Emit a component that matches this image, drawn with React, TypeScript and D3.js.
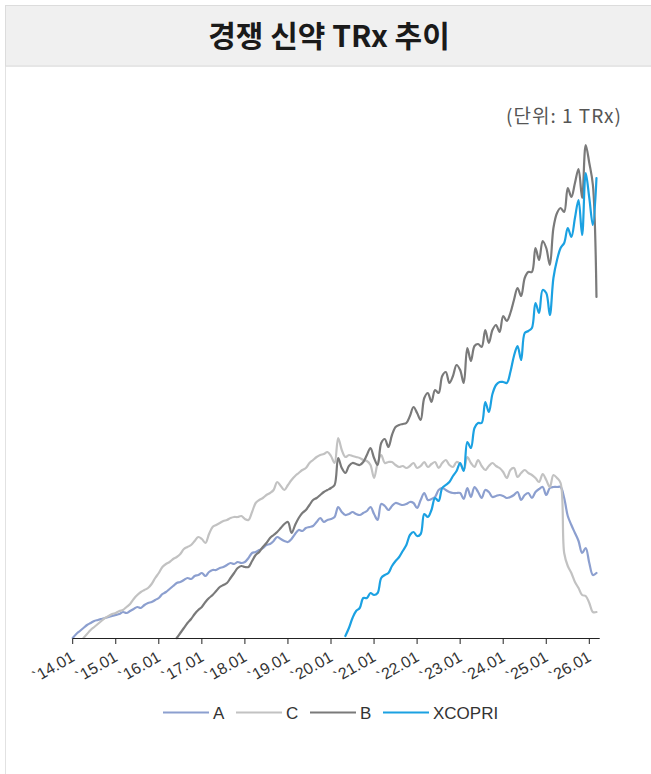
import React from 'react';
import * as d3 from 'd3';

// ---------- data (monthly, starting `14.01 = month 0) ----------
const tickLabels = ["`14.01", "`15.01", "`16.01", "`17.01", "`18.01", "`19.01", "`20.01", "`21.01", "`22.01", "`23.01", "`24.01", "`25.01", "`26.01"];
const seriesNames = ["A", "C", "B", "XCOPRI"];
const seriesColors = ["#8c9fcf", "#c2c2c2", "#7a7a7a", "#1ba1e2"];

const startA = 0;
const valuesA = [
  0, 4, 7, 10, 13, 15, 17, 18, 19, 20, 21, 22,
  23, 24, 26, 25, 27, 29, 31, 30, 33, 35, 36, 38,
  40, 44, 46, 49, 52, 55, 56, 58, 60, 59, 62, 63,
  65, 62, 66, 68, 68, 70, 71, 73, 75, 74, 76, 75,
  76, 80, 85, 86, 88, 90, 93, 94, 97, 101, 99, 97,
  96, 99, 104, 108, 107, 110, 111, 112, 116, 120, 116, 118,
  119, 121, 131, 126, 123, 124, 126, 124, 123, 125, 127, 131,
  124, 118, 134, 132, 128, 132, 135, 134, 133, 134, 136, 135,
  130, 138, 145, 138, 139, 141, 148, 150, 148, 146, 145, 145,
  145, 139, 150, 141, 151, 146, 140, 148, 146, 141, 142, 143,
  142, 140, 141, 143, 146, 138, 143, 145, 140, 146, 149, 151,
  143, 150, 151, 151, 151, 140, 122, 113, 105, 97, 85, 90,
  75, 63, 65,
];

const startC = 3;
const valuesC = [
  0, 4, 8, 11, 14, 17, 20, 22, 24,
  25, 27, 28, 31, 34, 39, 43, 46, 48, 50, 54, 60,
  65, 71, 74, 76, 79, 81, 84, 89, 91, 93, 97, 101,
  99, 95, 104, 111, 113, 115, 117, 118, 120, 121, 121, 122,
  119, 118, 126, 135, 138, 140, 143, 145, 148, 156, 152, 148,
  153, 158, 162, 165, 168, 170, 175, 178, 181, 183, 184, 186,
  182, 175, 200, 188, 181, 183, 182, 181, 180, 178, 177, 173,
  160, 175, 183, 175, 176, 176, 173, 171, 172, 170, 172, 175,
  170, 172, 176, 171, 174, 176, 170, 175, 178, 173, 171, 176,
  174, 168, 181, 175, 171, 178, 172, 168, 172, 175, 172, 170,
  166, 160, 168, 170, 161, 165, 168, 165, 163, 160, 156, 164,
  158, 151, 163, 160, 155, 85, 72, 65, 56, 50, 43, 42,
  35, 26, 26,
];

const startB = 29;
const valuesB = [
  0, 5, 10, 15, 19, 24, 28,
  31, 36, 40, 43, 47, 51, 53, 55, 60, 65, 70, 72,
  71, 71, 77, 83, 86, 91, 95, 100, 103, 106, 110, 114,
  116, 105, 113, 120, 125, 128, 133, 138, 140, 143, 146, 148,
  150, 153, 180, 170, 165, 172, 175, 174, 173, 176, 183, 190,
  180, 173, 195, 199, 191, 203, 211, 213, 214, 215, 222, 231,
  225, 218, 240, 245, 236, 248, 245, 262, 266, 255, 262, 273,
  268, 255, 290, 277, 292, 294, 291, 308, 295, 308, 313, 306,
  322, 317, 325, 338, 350, 342, 360, 366, 366, 390, 378, 397,
  390, 373, 410, 425, 430, 426, 450, 441, 455, 469, 440, 493,
  475, 453, 341,
];

const startX = 76;
const valuesX = [
  2, 10, 20, 27, 30, 40, 40, 45,
  43, 45, 60, 63, 65, 72, 77, 81, 87, 93, 103, 106,
  102, 104, 124, 121, 128, 140, 137, 150, 153, 156, 162, 167,
  175, 167, 196, 190, 210, 215, 215, 236, 226, 244, 253, 256,
  256, 255, 266, 282, 292, 278, 305, 307, 310, 335, 325, 348,
  345, 323, 360, 378, 390, 395, 410, 401, 420, 438, 403, 465,
  440, 413, 460,
];

const seriesStarts = [startA, startC, startB, startX];
const seriesValues = [valuesA, valuesC, valuesB, valuesX];
const unitLabel = "(단위: 1 TRx)";
const titleText = "경쟁 신약 TRx 추이";

export default function App() {
  const W = 651;
  const H = 774;
  const x = d3.scaleLinear().domain([0, 144]).range([72.7, 589.3]);
  const y = d3.scaleLinear().domain([0, 500]).range([638, 138]);
  const line = d3
    .line<[number, number]>()
    .x((d) => x(d[0]))
    .y((d) => y(d[1]))
    .curve(d3.curveCatmullRom.alpha(0.5));

  const tickMonths = tickLabels.map((_, i) => i * 12);
  const latin = "'Liberation Sans', Arial, Helvetica, sans-serif";

  const legendItems = [
    { lx: 163, tx: 213 },
    { lx: 236, tx: 286 },
    { lx: 310, tx: 360 },
    { lx: 383, tx: 433 },
  ];

  return (
    <div style={{ position: 'absolute', left: 0, top: 0, width: W, height: H, background: '#fff' }}>
      <svg width={W} height={H} style={{ display: 'block' }}>
        {/* panel */}
        <rect x={5.5} y={66} width={W + 10} height={H} fill="#fff" stroke="#e2e2e2" strokeWidth={1} />
        <rect x={5.5} y={5.5} width={W + 10} height={60.5} fill="#f0f0f0" stroke="#dcdcdc" strokeWidth={1} />
        <text
          x={329}
          y={47}
          textAnchor="middle"
          fontFamily="'Noto Sans CJK KR', 'Noto Sans', sans-serif"
          fontWeight={700}
          fontSize={30}
          fill="#1a1a1a"
        >
          {titleText}
        </text>

        <text x={622} y={123} textAnchor="end" fontFamily="'Noto Sans CJK KR', 'Noto Sans', sans-serif" fontSize={19} letterSpacing={1} fill="#555">
          {unitLabel}
        </text>

        {/* series */}
        {seriesValues.map((vals, si) => {
          const pts: [number, number][] = vals.map((v, i) => [seriesStarts[si] + i, v]);
          return (
            <path key={si} d={line(pts) || ''} fill="none" stroke={seriesColors[si]} strokeWidth={2.2} strokeLinejoin="round" strokeLinecap="round" />
          );
        })}

        {/* x axis */}
        <line x1={x(0)} x2={x(146.9)} y1={638.5} y2={638.5} stroke="#222" strokeWidth={1} />
        {tickMonths.map((m, i) => (
          <g key={i} transform={`translate(${x(m)},0)`}>
            <line x1={0} x2={0} y1={638.5} y2={644} stroke="#222" strokeWidth={1} />
            <text
              transform={`translate(3,660) rotate(-30)`}
              textAnchor="end"
              fontFamily={latin}
              fontSize={16}
              fill="#333"
            >
              {tickLabels[i]}
            </text>
          </g>
        ))}

        {/* legend */}
        {seriesNames.map((name, i) => (
          <g key={name}>
            <line x1={legendItems[i].lx} x2={legendItems[i].lx + 46} y1={712.5} y2={712.5} stroke={seriesColors[i]} strokeWidth={2.2} />
            <text x={legendItems[i].tx} y={719} fontFamily={latin} fontSize={17} fill="#333">
              {name}
            </text>
          </g>
        ))}
      </svg>
    </div>
  );
}
